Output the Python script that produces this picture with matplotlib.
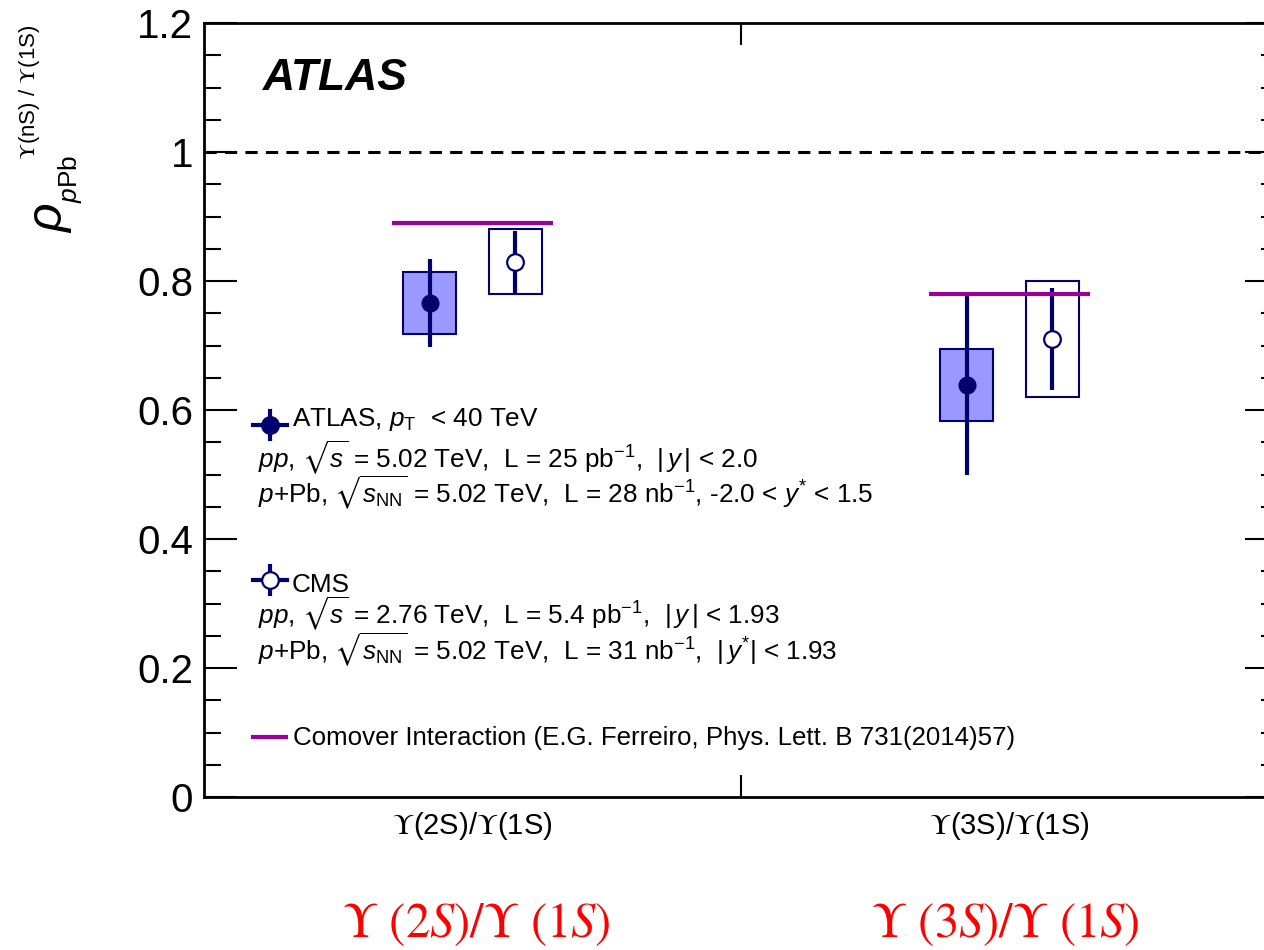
import matplotlib
matplotlib.use("Agg")
import matplotlib.pyplot as plt
import numpy as np

plt.rcParams['font.family'] = ['Liberation Sans', 'DejaVu Sans']
plt.rcParams['mathtext.fontset'] = 'custom'
plt.rcParams['mathtext.rm'] = 'Liberation Sans'
plt.rcParams['mathtext.it'] = 'Liberation Sans:italic'
plt.rcParams['mathtext.bf'] = 'Liberation Sans:bold'
plt.rcParams['mathtext.fallback'] = 'stixsans'

# ---- data -------------------------------------------------------------
categories = [r'$\Upsilon$(2S)/$\Upsilon$(1S)', r'$\Upsilon$(3S)/$\Upsilon$(1S)']
red_labels = [r'$\Upsilon\ (2S)/\Upsilon\ (1S)$', r'$\Upsilon\ (3S)/\Upsilon\ (1S)$']

atlas_val = [0.766, 0.639]
atlas_stat = [0.068, 0.140]
atlas_syst = [0.048, 0.056]

cms_val = [0.830, 0.710]
cms_stat = [0.048, 0.079]
cms_syst = [0.050, 0.090]

comover_val = [0.890, 0.780]

# ---- style -----------------------------------------------------------
navy = '#00006e'
box_fill = '#9999ff'
purple = '#990099'

W, H = 1264, 950
fig = plt.figure(figsize=(W / 100, H / 100), dpi=100)
# axes box in pixel coordinates (right edge runs just past the canvas)
left, right, top, bottom = 204, 1278, 23, 797
ax = fig.add_axes([left / W, 1 - bottom / H, (right - left) / W, (bottom - top) / H])

centers = np.arange(len(categories)) + 0.5
x_atlas = centers - 0.08
x_cms = centers + 0.08
box_w = 0.10

# systematic boxes
ax.bar(x_atlas, 2 * np.array(atlas_syst), bottom=np.array(atlas_val) - atlas_syst,
       width=box_w, facecolor=box_fill, edgecolor=navy, linewidth=1.5, zorder=2)
ax.bar(x_cms, 2 * np.array(cms_syst), bottom=np.array(cms_val) - cms_syst,
       width=box_w, facecolor='none', edgecolor=navy, linewidth=1.5, zorder=2)

# points with statistical errors
ax.errorbar(x_atlas, atlas_val, yerr=atlas_stat, fmt='o', color=navy, ms=12,
            elinewidth=3, capsize=0, zorder=3)
ax.errorbar(x_cms, cms_val, yerr=cms_stat, fmt='o', color=navy, mfc='white',
            mec=navy, mew=1.6, ms=12, elinewidth=3, capsize=0, zorder=3)

# comover interaction model
ax.hlines(comover_val, centers - 0.15, centers + 0.15, colors=purple, lw=3, zorder=4)

# unity reference line
ax.axhline(1.0, color='black', lw=2.2, linestyle=(0, (4, 2.7)), zorder=1)

ax.set_xlim(0, 2)
ax.set_ylim(0, 1.2)

for s in ax.spines.values():
    s.set_linewidth(2.0)

ax.set_yticks(np.arange(0, 1.21, 0.2))
ax.set_yticklabels(['0', '0.2', '0.4', '0.6', '0.8', '1', '1.2'])
ax.set_yticks(np.arange(0, 1.201, 0.05), minor=True)
ax.tick_params(axis='y', which='major', direction='in', length=24, width=1.5,
               labelsize=29, pad=8, left=True, right=True)
ax.tick_params(axis='y', which='minor', direction='in', length=12, width=1.5,
               left=True, right=True)

ax.set_xticks([1.0])
ax.set_xticklabels([''])
ax.set_xticks(centers, minor=True)
ax.set_xticklabels(categories, minor=True, fontsize=21, math_fontfamily='stix')
ax.tick_params(axis='x', which='major', direction='in', length=16, width=1.5,
               top=True, bottom=True)
ax.tick_params(axis='x', which='minor', length=0, pad=9)

# y-axis title, assembled from pieces
def px(x, y):
    return x / W, 1 - y / H

fig.text(*px(51, 233), r'$\rho$', fontsize=36, rotation=90, ha='center', va='bottom')
fig.text(*px(29, 160), r'$\Upsilon$(nS) / $\Upsilon$(1S)', fontsize=16, rotation=90,
         ha='center', va='bottom', math_fontfamily='stix')
fig.text(*px(70, 203), r'$p$Pb', fontsize=19, rotation=90, ha='center', va='bottom')

# experiment label
fig.text(*px(263, 90), 'ATLAS', fontsize=32, fontweight='bold', fontstyle='italic',
         va='baseline')

# legend block
fs = 18.8
fig.text(*px(292, 426), r'ATLAS, $p_{\mathrm{T}}\ \ $< 40 TeV', fontsize=fs, va='baseline')
fig.text(*px(258, 468), r'$pp$, $\sqrt{s}$ = 5.02 TeV,  L = 25 pb$^{-1}$,  $|\,y\,|$ < 2.0',
         fontsize=fs, va='baseline')
fig.text(*px(258, 503), r'$p$+Pb, $\sqrt{s_{\mathrm{NN}}}$ = 5.02 TeV,  L = 28 nb$^{-1}$, -2.0 < $y^{*}$ < 1.5',
         fontsize=fs, va='baseline')
fig.text(*px(292, 592), 'CMS', fontsize=fs, va='baseline')
fig.text(*px(258, 624), r'$pp$, $\sqrt{s}$ = 2.76 TeV,  L = 5.4 pb$^{-1}$,  $|\,y\,|$ < 1.93',
         fontsize=fs, va='baseline')
fig.text(*px(258, 660), r'$p$+Pb, $\sqrt{s_{\mathrm{NN}}}$ = 5.02 TeV,  L = 31 nb$^{-1}$,  $|\,y^{*}|$ < 1.93',
         fontsize=fs, va='baseline')
fig.text(*px(293, 745), 'Comover Interaction (E.G. Ferreiro, Phys. Lett. B 731(2014)57)',
         fontsize=18.6, va='baseline')

def axfrac(x, y):
    return (x - left) / (right - left), (bottom - y) / (bottom - top)

# legend symbols
tr = ax.transAxes
for (cx, cy), face in [((270, 425), navy), ((270, 580), 'white')]:
    x0, y0 = axfrac(cx - 17, cy)
    x1, _ = axfrac(cx + 17, cy)
    _, ya = axfrac(cx, cy - 14)
    _, yb = axfrac(cx, cy + 14)
    xc, yc = axfrac(cx, cy)
    ax.plot([x0, x1], [y0, y0], color=navy, lw=3, transform=tr, clip_on=False)
    ax.plot([xc, xc], [yb, ya], color=navy, lw=3, transform=tr, clip_on=False)
    ax.plot([xc], [yc], 'o', color=navy, mfc=face, mec=navy, mew=1.6, ms=12,
            transform=tr, clip_on=False)
x0, y0 = axfrac(253, 737)
x1, _ = axfrac(286, 737)
ax.plot([x0, x1], [y0, y0], color=purple, lw=3, transform=tr, clip_on=False)

# large category captions under the axis
for xc, lab in zip([476, 1005], red_labels):
    fig.text(*px(xc, 925), lab, fontsize=35, color='red', ha='center', va='center',
             math_fontfamily='stix')

fig.savefig('out.png', dpi=100)
